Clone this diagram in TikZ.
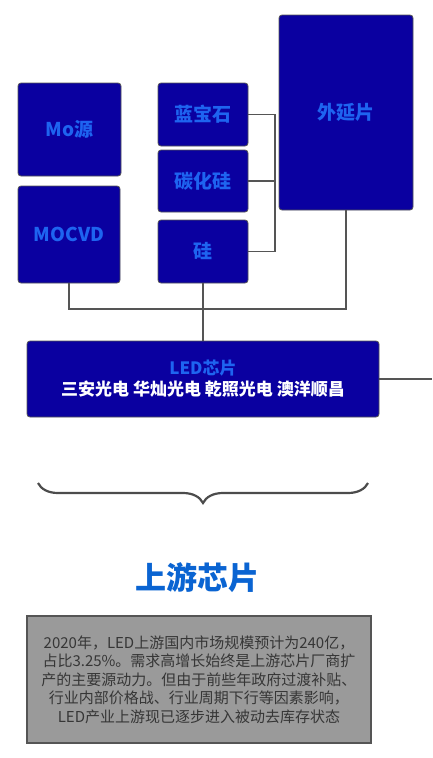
\documentclass[tikz,border=0pt]{standalone}
\usepackage{fontspec}
\newfontfamily\cjk{Noto Sans CJK SC}
\usetikzlibrary{decorations.pathreplacing}
\definecolor{boxblue}{HTML}{0A00A0}
\definecolor{txtblue}{HTML}{1E64F0}
\definecolor{titleblue}{HTML}{0A64D2}
\definecolor{linegray}{HTML}{555555}
\definecolor{graybox}{HTML}{9A9A9A}
\definecolor{graytxt}{HTML}{363636}
\begin{document}
\begin{tikzpicture}[x=1pt,y=-1pt,
  bluebox/.style={draw=linegray,line width=0.8pt,fill=boxblue,rounded corners=3pt,
    inner sep=0pt,font=\cjk\bfseries\fontsize{19}{22}\selectfont,text=txtblue},
  conn/.style={draw=linegray,line width=1.4pt}]
\fill[white] (0,0) rectangle (432,758);
\useasboundingbox (0,0) rectangle (432,758);
\node[bluebox,minimum width=103pt,minimum height=93pt] (mo) at (69.5,129.5) {Mo源};
\node[bluebox,minimum width=102pt,minimum height=97pt] (mocvd) at (69,234.5) {MOCVD};
\node[bluebox,minimum width=90pt,minimum height=63pt] (lan) at (203,114.5) {蓝宝石};
\node[bluebox,minimum width=90pt,minimum height=62pt] (tan) at (203,181) {碳化硅};
\node[bluebox,minimum width=90pt,minimum height=63pt] (gui) at (203,251.5) {硅};
\node[bluebox,minimum width=134pt,minimum height=195pt] (wai) at (346,112.5) {外延片};
\node[bluebox,minimum width=352pt,minimum height=76pt,align=center,
  font=\cjk\bfseries\fontsize{17}{21}\selectfont] (led) at (203,379)
  {\textcolor{txtblue}{LED芯片}\\\textcolor{white}{三安光电 华灿光电 乾照光电 澳洋顺昌}};
\coordinate (bx) at (275,0);
\coordinate (by) at (0,309);
\coordinate (rend) at (432,379);
\draw[conn] (lan.east) -- (lan.east -| bx) -- (gui.east -| bx) -- (gui.east);
\draw[conn] (tan.east) -- (tan.east -| bx);
\draw[conn] (mocvd.south) -- (mocvd.south |- by) -- (wai.south |- by) -- (wai.south);
\draw[conn] (gui.south) -- (led.north);
\draw[conn] (led.east) -- (rend);
\coordinate (bl) at (38,483);
\coordinate (br) at (368,483);
\draw[draw=linegray!90!black,line width=2.2pt,decorate,decoration={brace,amplitude=20pt}] (br) -- (bl);
\node[font=\cjk\bfseries\fontsize{31}{36}\selectfont,text=titleblue] (title) at (197,578) {上游芯片};
\node[draw=linegray,line width=1.2pt,fill=graybox,minimum width=344pt,minimum height=127pt,
  inner sep=0pt,align=center,text=graytxt,font=\cjk\fontsize{15}{18.6}\selectfont] (info) at (199,679.5)
  {2020年，LED上游国内市场规模预计为240亿，\\
   占比3.25\%。需求高增长始终是上游芯片厂商扩\\
   产的主要源动力。但由于前些年政府过渡补贴、\\
   行业内部价格战、行业周期下行等因素影响，\\
   LED产业上游现已逐步进入被动去库存状态};
\end{tikzpicture}
\end{document}
